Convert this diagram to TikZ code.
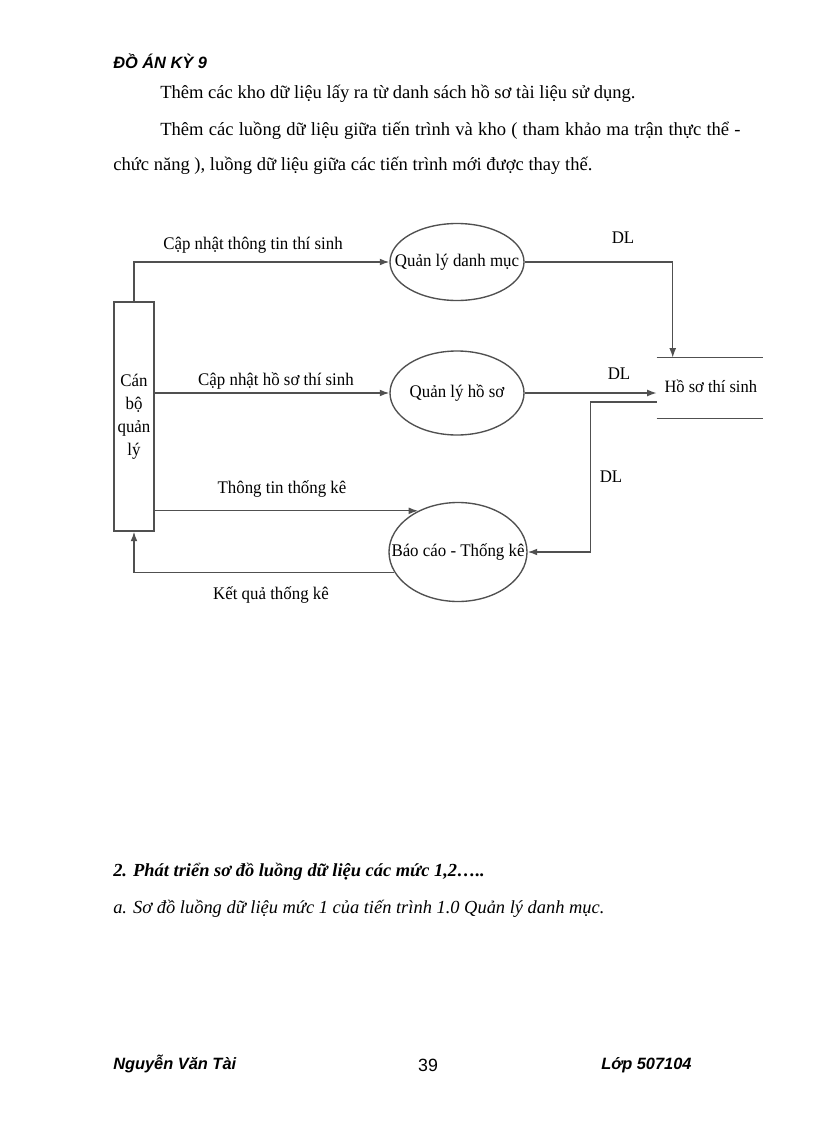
\documentclass[tikz,border=0pt]{standalone}
\usepackage{fontspec}
\setmainfont{Liberation Serif}
\newfontfamily\arialfont{Liberation Sans}
\newfontfamily\dgserif[FakeStretch=0.95]{Liberation Serif}
\usetikzlibrary{arrows.meta, shapes.geometric}

\def\pu{0.025735cm}
\definecolor{lnc}{RGB}{80,80,80}
\newcommand{\dgfont}{\dgserif\fontsize{13}{16.8}\selectfont}

\begin{document}
\begin{tikzpicture}[x=\pu, y=-\pu,
    proc/.style={ellipse, draw=lnc, line width=1pt, inner sep=0pt, font=\dgfont},
    ent/.style={rectangle, draw=lnc, line width=1pt, inner sep=0pt, align=center, font=\dgfont},
    flow/.style={->, >={Latex[length=7pt,width=5pt]}, draw=lnc, line width=1pt},
    lbl/.style={font=\dgfont, inner sep=0pt},
    body/.style={anchor=base west, inner sep=0pt, font=\fontsize{13.6}{16}\selectfont},
    hdr/.style={anchor=base west, inner sep=0pt, font=\arialfont\bfseries\itshape\fontsize{12}{14}\selectfont}]
    \useasboundingbox (0,0) rectangle (816,1123);

    % page text
    \node[hdr] (hd) at (113,68) {ĐỒ ÁN KỲ 9};
    \node[body] (t1) at (160,98) {Thêm các kho dữ liệu lấy ra từ danh sách hồ sơ tài liệu sử dụng.};
    \node[body] (t2) at (160,135) {\makebox[425pt][s]{Thêm các luồng dữ liệu giữa tiến trình và kho ( tham khảo ma trận thực thể -}};
    \node[body] (t3) at (113,170) {chức năng ), luồng dữ liệu giữa các tiến trình mới được thay thế.};

    % diagram
    \node[ent, minimum width=40*\pu, minimum height=229*\pu] (cb) at (134,416.5) {Cán\\bộ\\quản\\lý};
    \node[proc, minimum width=134*\pu, minimum height=77*\pu, label=center:{\dgfont Quản lý danh mục}] (qldm) at (457,262) {};
    \node[proc, minimum width=134*\pu, minimum height=84*\pu, label=center:{\dgfont Quản lý hồ sơ}] (qlhs) at (457,393) {};
    \node[proc, minimum width=138*\pu, minimum height=99*\pu, label=center:{\dgfont Báo cáo - Thống kê}] (bc) at (458,552) {};
    \node[rectangle, inner sep=0pt, minimum width=106*\pu, minimum height=60*\pu,
          label={[anchor=west, xshift=3*\pu, yshift=2*\pu, font=\dgserif\fontsize{12.7}{15}\selectfont]west:Hồ sơ thí sinh}] (hs) at (710,388) {};
    \draw[lnc, line width=1pt] (hs.north west) -- (hs.north east);
    \draw[lnc, line width=1pt] (hs.south west) -- (hs.south east);

    \draw[flow] (cb.north) |- (qldm);
    \draw[flow] (qldm.east) -| ([xshift=16*\pu]hs.north west);
    \draw[flow] (cb.east |- qlhs.west) -- (qlhs.west);
    \draw[flow] (qlhs.east) -- (hs.west |- qlhs.east);
    \draw[flow] ([yshift=-14*\pu]hs.west) -- ++(-66,0) |- (bc.east);
    \draw[flow] (cb.east |- bc.134) -- (bc.134);
    \draw[flow] (bc.198) -| (cb.south);

    \node[lbl] (l1) at (253,245) {Cập nhật thông tin thí sinh};
    \node[lbl] (l2) at (276,381) {Cập nhật hồ sơ thí sinh};
    \node[lbl] (l3) at (282,489) {Thông tin thống kê};
    \node[lbl] (l4) at (271,595) {Kết quả thống kê};
    \node[lbl] (d1) at (623,238) {DL};
    \node[lbl] (d2) at (619,374) {DL};
    \node[lbl] (d3) at (611,477) {DL};

    % section text
    \node[body, font=\bfseries\itshape\fontsize{13.5}{16}\selectfont] (h2) at (113,876) {2. Phát triển sơ đồ luồng dữ liệu các mức 1,2…..};
    \node[body, font=\itshape\fontsize{13.5}{16}\selectfont] (h3) at (113,913) {a. Sơ đồ luồng dữ liệu mức 1 của tiến trình 1.0 Quản lý danh mục.};

    % footer
    \node[hdr] (f1) at (113,1069) {Nguyễn Văn Tài};
    \node[anchor=base, inner sep=0pt, font=\arialfont\fontsize{13}{15}\selectfont] (f2) at (428,1071) {39};
    \node[hdr] (f3) at (601,1069) {Lớp 507104};
\end{tikzpicture}
\end{document}
